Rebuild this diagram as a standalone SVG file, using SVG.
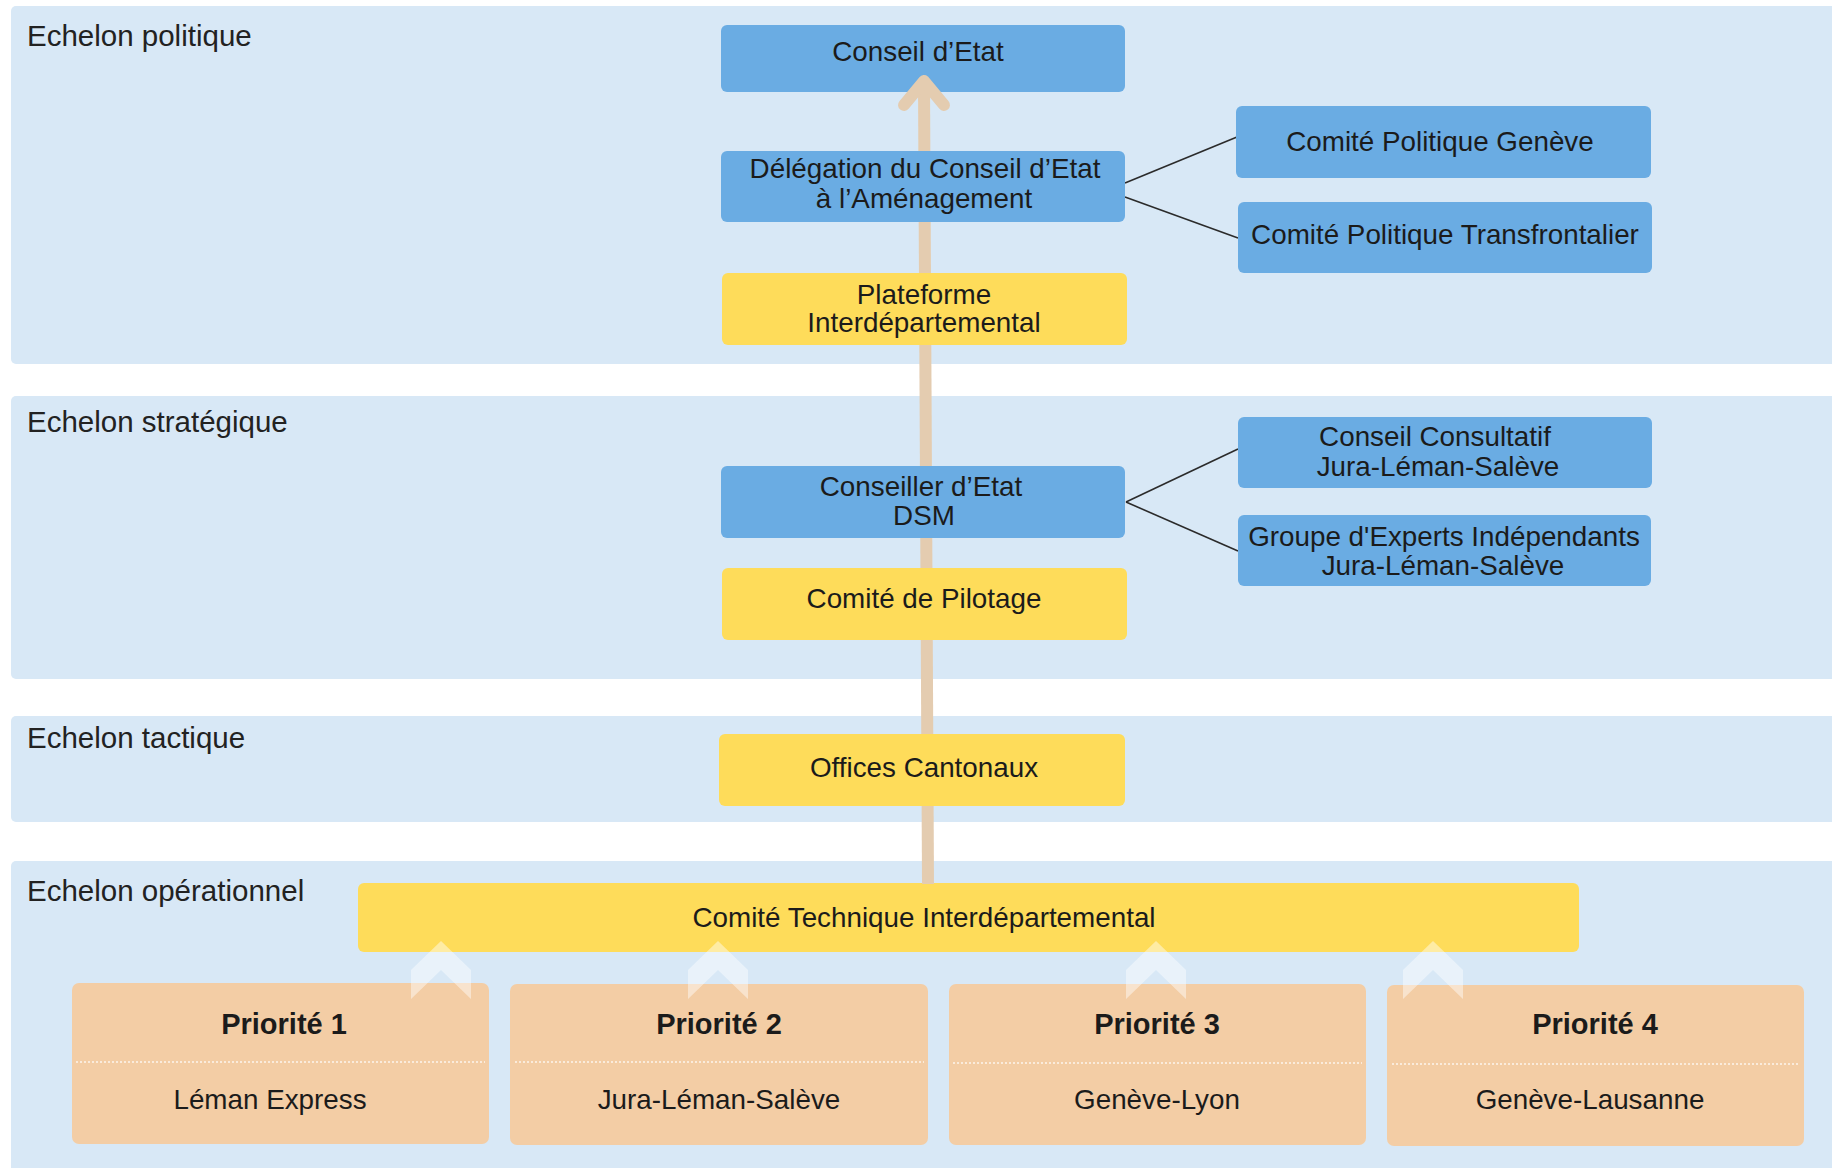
<svg xmlns="http://www.w3.org/2000/svg" width="1832" height="1168" viewBox="0 0 1832 1168">
<style>
  text { font-family: "Liberation Sans", Arial, sans-serif; fill: #1b1b1b; text-anchor: middle; }
  .band { fill: #D8E8F6; }
  .blabel { font-size: 29.5px; text-anchor: start; fill: #222; }
  .blue { fill: #6AACE3; }
  .yellow { fill: #FEDC5A; }
  .peach { fill: #F3CDA5; }
  .t { font-size: 27.8px; }
  .pt { font-size: 29px; font-weight: bold; }
  .div { stroke: #FFFFFF; stroke-opacity: 0.8; stroke-width: 1.6; stroke-dasharray: 2 2; }
  .link { stroke: #2b2b2b; stroke-width: 1.6; fill: none; }
  .shaft { stroke: #E4CCB0; stroke-width: 12; fill: none; stroke-linecap: butt; }
  .head { stroke: #E4CCB0; stroke-width: 12; fill: none; stroke-linecap: round; stroke-linejoin: round; }
  .chev { fill: #FFFFFF; fill-opacity: 0.45; }
</style>

<g id="bands">
  <rect class="band" x="11" y="6" width="1840" height="358" rx="5"/>
  <rect class="band" x="11" y="396" width="1840" height="283" rx="5"/>
  <rect class="band" x="11" y="716" width="1840" height="106" rx="5"/>
  <rect class="band" x="11" y="861" width="1840" height="320" rx="5"/>
  <text class="blabel" x="27" y="46">Echelon politique</text>
  <text class="blabel" x="27" y="432">Echelon stratégique</text>
  <text class="blabel" x="27" y="748">Echelon tactique</text>
  <text class="blabel" x="27" y="901">Echelon opérationnel</text>
</g>

<g id="conseil-etat">
  <rect class="blue" x="721" y="25" width="404" height="67" rx="6"/>
  <text class="t" x="918" y="61">Conseil d’Etat</text>
</g>

<g id="comite-technique">
  <rect class="yellow" x="358" y="883" width="1221" height="69" rx="6"/>
  <text class="t" x="924" y="927">Comité Technique Interdépartemental</text>
</g>

<g id="priorite-1">
  <rect class="peach" x="72" y="983" width="417" height="161" rx="7"/>
  <line class="div" x1="76" y1="1062" x2="485" y2="1062"/>
  <text class="pt" x="284" y="1034">Priorité 1</text>
  <text class="t" x="270" y="1109">Léman Express</text>
</g>
<g id="priorite-2">
  <rect class="peach" x="510" y="984" width="418" height="161" rx="7"/>
  <line class="div" x1="515" y1="1062" x2="924" y2="1062"/>
  <text class="pt" x="719" y="1034">Priorité 2</text>
  <text class="t" x="719" y="1109">Jura-Léman-Salève</text>
</g>
<g id="priorite-3">
  <rect class="peach" x="949" y="984" width="417" height="161" rx="7"/>
  <line class="div" x1="953" y1="1063" x2="1362" y2="1063"/>
  <text class="pt" x="1157" y="1034">Priorité 3</text>
  <text class="t" x="1157" y="1109">Genève-Lyon</text>
</g>
<g id="priorite-4">
  <rect class="peach" x="1387" y="985" width="417" height="161" rx="7"/>
  <line class="div" x1="1392" y1="1064" x2="1800" y2="1064"/>
  <text class="pt" x="1595" y="1034">Priorité 4</text>
  <text class="t" x="1590" y="1109">Genève-Lausanne</text>
</g>

<g id="connectors">
  <line class="shaft" x1="928" y1="884" x2="924" y2="82"/>
  <polyline class="head" points="904,105 924,81 944,105"/>
  <line class="link" x1="1125" y1="183" x2="1237" y2="137"/>
  <line class="link" x1="1125" y1="197" x2="1238" y2="238"/>
  <line class="link" x1="1126" y1="502" x2="1238" y2="449"/>
  <line class="link" x1="1126" y1="502" x2="1238" y2="551"/>
  <path class="chev" d="M441,941 L471,970 L471,999 L441,970 L411,999 L411,970 Z"/>
  <path class="chev" d="M718,941 L748,970 L748,999 L718,970 L688,999 L688,970 Z"/>
  <path class="chev" d="M1156,941 L1186,970 L1186,999 L1156,970 L1126,999 L1126,970 Z"/>
  <path class="chev" d="M1433,941 L1463,970 L1463,999 L1433,970 L1403,999 L1403,970 Z"/>
</g>

<g id="delegation">
  <rect class="blue" x="721" y="151" width="404" height="71" rx="6"/>
  <text class="t" x="925" y="178">Délégation du Conseil d’Etat</text>
  <text class="t" x="924" y="208">à l’Aménagement</text>
</g>

<g id="plateforme">
  <rect class="yellow" x="722" y="273" width="405" height="72" rx="6"/>
  <text class="t" x="924" y="304">Plateforme</text>
  <text class="t" x="924" y="332">Interdépartemental</text>
</g>

<g id="comite-politique-geneve">
  <rect class="blue" x="1236" y="106" width="415" height="72" rx="6"/>
  <text class="t" x="1440" y="151">Comité Politique Genève</text>
</g>

<g id="comite-politique-transfrontalier">
  <rect class="blue" x="1238" y="202" width="414" height="71" rx="6"/>
  <text class="t" x="1445" y="244">Comité Politique Transfrontalier</text>
</g>

<g id="conseiller-etat">
  <rect class="blue" x="721" y="466" width="404" height="72" rx="6"/>
  <text class="t" x="921" y="496">Conseiller d’Etat</text>
  <text class="t" x="924" y="525">DSM</text>
</g>

<g id="comite-pilotage">
  <rect class="yellow" x="722" y="568" width="405" height="72" rx="6"/>
  <text class="t" x="924" y="608">Comité de Pilotage</text>
</g>

<g id="conseil-consultatif">
  <rect class="blue" x="1238" y="417" width="414" height="71" rx="6"/>
  <text class="t" x="1435" y="446">Conseil Consultatif</text>
  <text class="t" x="1438" y="476">Jura-Léman-Salève</text>
</g>

<g id="groupe-experts">
  <rect class="blue" x="1238" y="515" width="413" height="71" rx="6"/>
  <text class="t" x="1444" y="546">Groupe d'Experts Indépendants</text>
  <text class="t" x="1443" y="575">Jura-Léman-Salève</text>
</g>

<g id="offices-cantonaux">
  <rect class="yellow" x="719" y="734" width="406" height="72" rx="6"/>
  <text class="t" x="924" y="777">Offices Cantonaux</text>
</g>
</svg>
